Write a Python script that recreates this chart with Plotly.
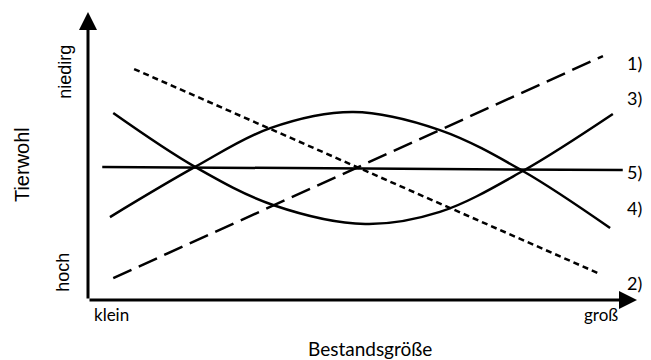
import plotly.graph_objects as go

# Bestandsgröße (x) vs. Tierwohl (y), schematic units 0..10
x_line1 = [0.46, 9.38]
y_line1 = [0.76, 8.47]

x_line2 = [0.84, 9.33]
y_line2 = [8.02, 0.90]

x_line3 = [0.46, 1.95, 3.37, 5.05, 6.41, 7.92, 9.56]
y_line3 = [6.49, 4.62, 3.30, 2.64, 3.06, 4.48, 6.46]

x_line4 = [0.40, 1.95, 3.32, 4.83, 6.41, 7.92, 9.51]
y_line4 = [2.88, 4.62, 5.97, 6.53, 5.90, 4.48, 2.50]

x_line5 = [0.26, 9.74]
y_line5 = [4.62, 4.51]

line_labels = ["1)", "3)", "5)", "4)", "2)"]
label_y = [8.23, 7.01, 4.44, 3.19, 0.59]

text_font = "Lato"
axis_font = "Liberation Sans"

fig = go.Figure()
fig.add_trace(go.Scatter(x=x_line1, y=y_line1, mode="lines",
                         line=dict(color="black", width=2.5, dash="20px,8px")))
fig.add_trace(go.Scatter(x=x_line2, y=y_line2, mode="lines",
                         line=dict(color="black", width=2.5, dash="6px,4px")))
fig.add_trace(go.Scatter(x=x_line3, y=y_line3, mode="lines",
                         line=dict(color="black", width=2.5, shape="spline", smoothing=1)))
fig.add_trace(go.Scatter(x=x_line4, y=y_line4, mode="lines",
                         line=dict(color="black", width=2.5, shape="spline", smoothing=1)))
fig.add_trace(go.Scatter(x=x_line5, y=y_line5, mode="lines",
                         line=dict(color="black", width=2.5)))

# axes as arrows
for tip_x, tip_y in [(0, 10), (10, 0)]:
    fig.add_annotation(x=tip_x, y=tip_y, ax=0, ay=0, xref="x", yref="y",
                       axref="x", ayref="y", text="", showarrow=True,
                       arrowhead=2, arrowsize=1.2, arrowwidth=3, arrowcolor="black")

for lab, yy in zip(line_labels, label_y):
    fig.add_annotation(x=9.78, y=yy, xref="x", yref="y", text=lab, showarrow=False,
                       xanchor="left", yanchor="middle", font=dict(size=18))


def add_text(x, y, txt, size, family=text_font, angle=0):
    fig.add_annotation(x=x, y=y, xref="paper", yref="paper", text=txt,
                       textangle=angle, showarrow=False, xanchor="center",
                       yanchor="middle", font=dict(size=size, family=family))


add_text(-0.042, 0.792, "niedirg", 18, axis_font, -90)
add_text(-0.046, 0.097, "hoch", 18, axis_font, -90)
add_text(-0.120, 0.469, "Tierwohl", 20, axis_font, -90)
add_text(0.042, -0.052, "klein", 17)
add_text(0.934, -0.052, "groß", 17)
add_text(0.514, -0.168, "Bestandsgröße", 19)

fig.update_xaxes(range=[0, 10], visible=False)
fig.update_yaxes(range=[0, 10], visible=False)
fig.update_layout(
    width=643, height=352,
    margin=dict(l=80, r=14, t=4, b=60),
    plot_bgcolor="white", paper_bgcolor="white",
    showlegend=False,
    font=dict(family=text_font, color="black"),
)

fig.write_html("out.html")
